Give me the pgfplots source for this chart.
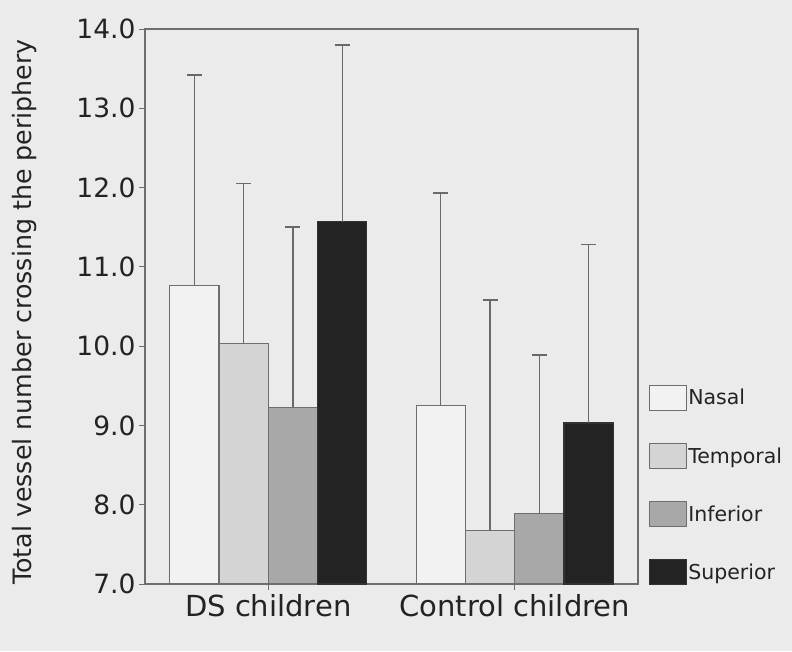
\documentclass[border=0pt]{standalone}
\usepackage{pgfplots}
\pgfplotsset{compat=1.18}
\usepackage{fontspec}
\setmainfont{DejaVu Sans}
\definecolor{bg}{RGB}{235,235,235}
\definecolor{cnasal}{RGB}{242,242,242}
\definecolor{ctemp}{RGB}{212,212,212}
\definecolor{cinf}{RGB}{168,168,168}
\definecolor{csup}{RGB}{35,35,35}
\definecolor{edge}{RGB}{110,110,110}
\definecolor{errc}{RGB}{105,105,105}
\definecolor{txt}{RGB}{35,35,35}

\pgfplotstableread{
x y ey
0 10.76 2.66
1 9.25 2.68
}\nasal
\pgfplotstableread{
x y ey
0 10.03 2.02
1 7.67 2.91
}\temporal
\pgfplotstableread{
x y ey
0 9.23 2.27
1 7.89 2.00
}\inferior
\pgfplotstableread{
x y ey
0 11.57 2.23
1 9.03 2.25
}\superior

\pgfplotsset{myerr/.style={
  error bars/y dir=plus, error bars/y explicit,
  error bars/error bar style={errc, line width=1.3pt},
  error bars/error mark options={rotate=90, mark size=7.5pt, errc, line width=1.5pt}}}

\begin{document}
\begin{tikzpicture}[x=1pt,y=1pt]
\fill[bg] (-145,-67) rectangle (647,584);
\path[use as bounding box] (-145,-67) rectangle (647,584);
\begin{axis}[
  scale only axis,
  width=493pt, height=555pt,
  xmin=-0.5, xmax=1.5,
  ymin=7, ymax=14,
  ybar, bar width=0.2,
  xtick={0,1},
  xticklabels={DS children, Control children},
  ytick={7,8,...,14},
  xtick pos=bottom, ytick pos=left,
  tick align=outside,
  major tick length=6pt,
  tick style={edge, line width=1pt},
  axis line style={edge, line width=1.3pt},
  /pgf/number format/assume math mode=true,
  yticklabel style={/pgf/number format/fixed, /pgf/number format/fixed zerofill, /pgf/number format/precision=1, font=\fontsize{26.5}{26.5}\selectfont, text=txt},
  xticklabel style={font=\fontsize{29}{29}\selectfont, text=txt, yshift=-1pt},
  ylabel={Total vessel number crossing the periphery},
  ylabel style={at={(axis description cs:-0.245,0.49)}, anchor=center, font=\fontsize{25.3}{25.3}\selectfont, text=txt},
  legend style={at={(1.022,-0.003)}, anchor=south west, draw=none, fill=none,
    font=\fontsize{20.5}{20.5}\selectfont, text=txt, row sep=32pt, inner sep=0pt,
    nodes={inner sep=1pt}},
  legend cell align=left,
  legend image code/.code={\draw[#1] (0pt,-12.5pt) rectangle (37pt,12.5pt);},
]
\addplot[fill=cnasal, draw=edge, line width=1.2pt, bar shift=-0.3, myerr] table[x=x, y=y, y error=ey] {\nasal};
\addplot[fill=ctemp, draw=edge, line width=1.2pt, bar shift=-0.1, myerr] table[x=x, y=y, y error=ey] {\temporal};
\addplot[fill=cinf, draw=edge, line width=1.2pt, bar shift=0.1, myerr] table[x=x, y=y, y error=ey] {\inferior};
\addplot[fill=csup, draw=csup!80!edge, line width=1.2pt, bar shift=0.3, myerr] table[x=x, y=y, y error=ey] {\superior};
\legend{Nasal, Temporal, Inferior, Superior}
\end{axis}
\end{tikzpicture}
\end{document}
